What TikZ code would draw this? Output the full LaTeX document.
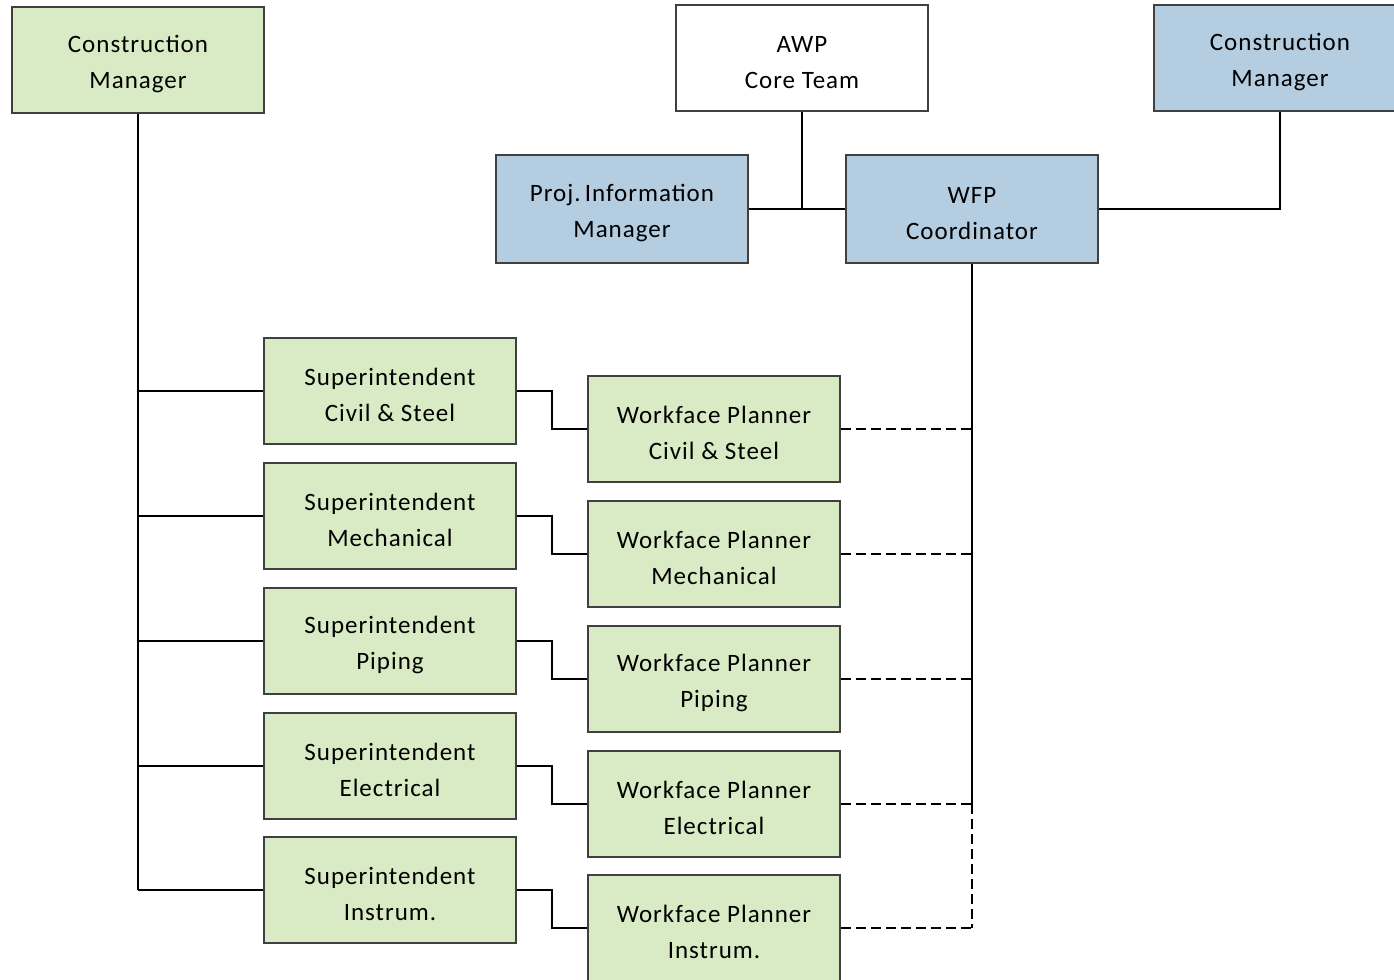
\documentclass[tikz,border=0pt]{standalone}
\usepackage{fontspec}
\setmainfont{Carlito}[LetterSpace=4]

\definecolor{boxgreen}{RGB}{217,235,197}
\definecolor{boxblue}{RGB}{181,205,224}
\definecolor{boxedge}{RGB}{64,64,64}

% taller first line so the two-line labels sit slightly low in their boxes
\newcommand\boxstrut{\rule{0pt}{13pt}}

\begin{document}
\begin{tikzpicture}[x=0.5pt,y=-0.5pt,
  box/.style={draw=boxedge, line width=0.8pt, minimum width=126pt,
    minimum height=53pt, align=center, inner sep=0pt,
    font=\fontsize{12.5}{18}\selectfont},
  greenbox/.style={box, fill=boxgreen},
  bluebox/.style={box, fill=boxblue},
  whitebox/.style={box, fill=white},
  link/.style={draw=black, line width=0.7pt},
  trunk/.style={draw=black, line width=1pt},
  dashlink/.style={link, dash pattern=on 5pt off 2.5pt}]
\useasboundingbox (0,0) rectangle (1394,980);
\clip (0,0) rectangle (1394,980);

% top row
\node[greenbox] (cmL) at (138,60) {\boxstrut Construction\\Manager};
\node[whitebox] (awp) at (802,58) {\boxstrut AWP\\Core Team};
\node[bluebox]  (cmR) at (1280,58) {\boxstrut Construction\\Manager};

% coordination row
\node[bluebox, minimum height=54pt] (pim) at (622,209) {\boxstrut Proj.\,Information\\Manager};
\node[bluebox, minimum height=54pt] (wfp) at (972,209) {\boxstrut WFP\\Coordinator};

% superintendents
\node[greenbox] (sup1) at (390,391) {\boxstrut Superintendent\\Civil \& Steel};
\node[greenbox] (sup2) at (390,516) {\boxstrut Superintendent\\Mechanical};
\node[greenbox] (sup3) at (390,641) {\boxstrut Superintendent\\Piping};
\node[greenbox] (sup4) at (390,766) {\boxstrut Superintendent\\Electrical};
\node[greenbox] (sup5) at (390,890) {\boxstrut Superintendent\\Instrum.};

% workface planners
\node[greenbox] (wp1) at (714,429) {\boxstrut Workface Planner\\Civil \& Steel};
\node[greenbox] (wp2) at (714,554) {\boxstrut Workface Planner\\Mechanical};
\node[greenbox] (wp3) at (714,679) {\boxstrut Workface Planner\\Piping};
\node[greenbox] (wp4) at (714,804) {\boxstrut Workface Planner\\Electrical};
\node[greenbox] (wp5) at (714,928) {\boxstrut Workface Planner\\Instrum.};

% construction manager to superintendents
\draw[trunk] (cmL.south) -- (cmL.south |- sup5.west);
\foreach \i in {1,...,5}{
  \draw[link] (cmL.south |- sup\i.west) -- (sup\i.west);
  \draw[link] (sup\i.east) -- ++(35,0) |- (wp\i.west);
}

% AWP core team links
\draw[link] (awp.south) -- (awp.south |- pim.east);
\draw[link] (pim.east) -- (wfp.west);
\draw[link] (cmR.south) |- (wfp.east);

% WFP coordinator to workface planners
\draw[trunk] (wfp.south) -- (wfp.south |- wp4.east);
\foreach \i in {1,...,5}{
  \draw[dashlink] (wp\i.east) -- (wfp.south |- wp\i.east);
}
\draw[dashlink] (wfp.south |- wp4.east) -- (wfp.south |- wp5.east);
\end{tikzpicture}
\end{document}
